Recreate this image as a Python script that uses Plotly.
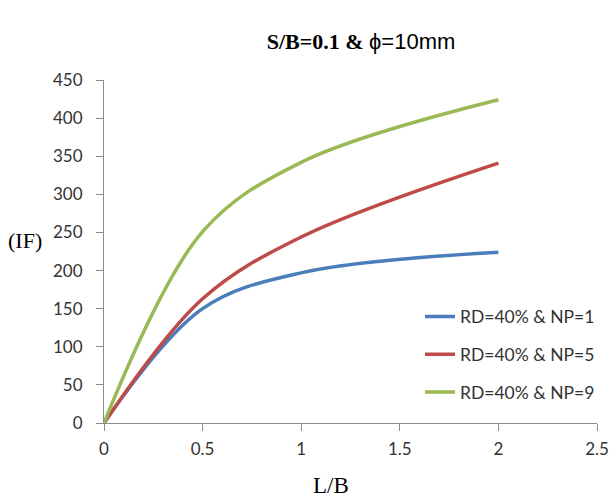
import plotly.graph_objects as go

x_lb = [0, 0.5, 1, 2]
np1 = [0, 150, 197, 224]
np5 = [0, 163, 244, 341]
np9 = [0, 251, 342, 424]
names = ["RD=40% & NP=1", "RD=40% & NP=5", "RD=40% & NP=9"]
colors = ["#4A7EBB", "#BE4B48", "#98B954"]
series = [np1, np5, np9]

x_ticks = [0, 0.5, 1, 1.5, 2, 2.5]
y_ticks = list(range(0, 451, 50))

fig = go.Figure()
for i, (nm, ys, c) in enumerate(zip(names, series, colors)):
    fig.add_trace(go.Scatter(
        x=x_lb, y=ys, mode="lines", name=nm, legendgroup=str(i),
        line=dict(color=c, width=3.5, shape="spline", smoothing=1.0),
    ))

tick_font = dict(family="Lato, Carlito, sans-serif", size=17, color="#333333")
fig.update_layout(
    width=611, height=498,
    margin=dict(l=104, r=14, t=80, b=75, autoexpand=False),
    paper_bgcolor="white", plot_bgcolor="white",
    title=dict(
        text="<b>S/B=0.1 &amp;</b> <span style='font-family:Liberation Sans'>ϕ=10mm</span>",
        font=dict(family="Liberation Serif", size=22, color="black"),
        x=361 / 611, xanchor="center", y=1 - 41 / 498, yanchor="middle",
    ),
    xaxis=dict(
        range=[0, 2.5], tickvals=x_ticks, ticktext=["0", "0.5", "1", "1.5", "2", "2.5"],
        showline=True, linecolor="#8C8C8C", linewidth=1, automargin=False,
        ticks="outside", ticklen=7, tickcolor="#8C8C8C", ticklabelstandoff=4,
        showgrid=False, zeroline=False, tickfont=tick_font,
    ),
    yaxis=dict(
        range=[0, 450], tickvals=y_ticks, automargin=False,
        showline=True, linecolor="#8C8C8C", linewidth=1,
        ticks="outside", ticklen=7, tickcolor="#8C8C8C", ticklabelstandoff=10,
        showgrid=False, zeroline=False, tickfont=tick_font,
    ),
    legend=dict(
        x=(420 - 104) / 493, y=(423.5 - 299) / 343, xanchor="left", yanchor="top",
        font=dict(family="Lato, Carlito, sans-serif", size=17.5, color="#333333"),
        tracegroupgap=12, bgcolor="rgba(0,0,0,0)",
    ),
    showlegend=True,
)
fig.add_annotation(
    text="L/B", xref="paper", yref="paper", x=(331 - 104) / 493, y=-(486 - 423.5) / 343,
    xanchor="center", yanchor="middle", showarrow=False,
    font=dict(family="Liberation Serif", size=23, color="black"),
)
fig.add_annotation(
    text="(IF)", xref="paper", yref="paper", x=-(104 - 44) / 493, y=(423.5 - 241) / 343,
    xanchor="right", yanchor="middle", showarrow=False,
    font=dict(family="Liberation Serif", size=22, color="black"),
)
fig.write_html("out.html")
